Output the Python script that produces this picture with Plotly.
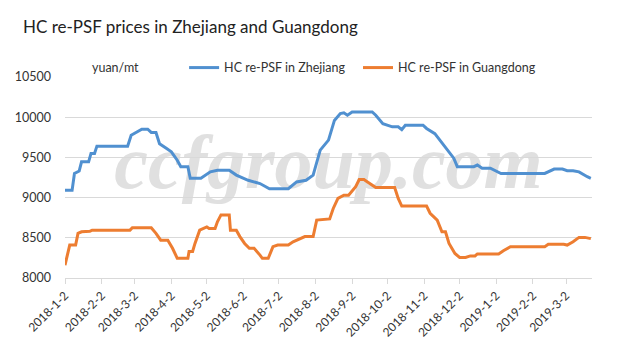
import plotly.graph_objects as go

# Zhejiang breakpoints
zj_dates = ["2018-01-02","2018-01-08","2018-01-10","2018-01-14","2018-01-16","2018-01-22","2018-01-24","2018-01-27",
            "2018-01-29","2018-02-24","2018-02-27","2018-03-02","2018-03-08","2018-03-13","2018-03-16","2018-03-20",
            "2018-03-23","2018-03-29","2018-04-02","2018-04-07","2018-04-10","2018-04-16","2018-04-18","2018-04-27",
            "2018-05-05","2018-05-11","2018-05-21","2018-05-27","2018-06-06","2018-06-16","2018-06-24","2018-07-10",
            "2018-07-17","2018-07-25","2018-07-31","2018-08-06","2018-08-10","2018-08-13","2018-08-18","2018-08-23",
            "2018-08-26","2018-08-29","2018-09-02","2018-09-19","2018-09-22","2018-09-28","2018-10-06","2018-10-11",
            "2018-10-14","2018-10-17","2018-11-01","2018-11-04","2018-11-11","2018-11-17","2018-11-23","2018-11-27",
            "2018-11-30","2018-12-14","2018-12-17","2018-12-21","2018-12-28","2019-01-06","2019-02-12","2019-02-20",
            "2019-02-27","2019-03-03","2019-03-08","2019-03-13","2019-03-20","2019-03-23"]
zj_values = [9090,9090,9300,9330,9445,9445,9550,9550,
             9640,9640,9775,9800,9850,9850,9810,9810,
             9670,9610,9570,9465,9385,9385,9240,9240,
             9320,9340,9340,9280,9215,9175,9110,9110,
             9195,9215,9280,9590,9670,9715,9960,10045,
             10055,10025,10065,10065,10025,9920,9880,9880,
             9845,9900,9900,9860,9795,9675,9570,9490,
             9385,9385,9405,9365,9365,9300,9300,9355,
             9355,9335,9335,9320,9260,9240]

# Guangdong breakpoints
gd_dates = ["2018-01-02","2018-01-06","2018-01-11","2018-01-13","2018-01-16","2018-01-23","2018-01-25","2018-02-26",
            "2018-02-28","2018-03-16","2018-03-20","2018-03-24","2018-03-30","2018-04-03","2018-04-07","2018-04-16",
            "2018-04-17","2018-04-20","2018-04-22","2018-04-26","2018-05-02","2018-05-04","2018-05-09","2018-05-11",
            "2018-05-14","2018-05-21","2018-05-22","2018-05-27","2018-05-30","2018-06-03","2018-06-07","2018-06-11",
            "2018-06-16","2018-06-18","2018-06-23","2018-06-27","2018-07-01","2018-07-10","2018-07-14","2018-07-20",
            "2018-07-24","2018-07-31","2018-08-03","2018-08-14","2018-08-17","2018-08-21","2018-08-26","2018-08-30",
            "2018-09-05","2018-09-08","2018-09-12","2018-09-15","2018-09-19","2018-09-22","2018-10-08","2018-10-11",
            "2018-10-14","2018-11-04","2018-11-07","2018-11-13","2018-11-17","2018-11-20","2018-11-23","2018-11-27",
            "2018-11-28","2018-12-02","2018-12-07","2018-12-11","2018-12-15","2018-12-17","2019-01-04","2019-01-08",
            "2019-01-14","2019-02-12","2019-02-15","2019-02-28","2019-03-03","2019-03-08","2019-03-13","2019-03-18",
            "2019-03-23"]
gd_values = [8160,8410,8410,8555,8575,8580,8595,8595,
             8625,8625,8555,8470,8470,8370,8245,8245,
             8330,8330,8430,8595,8635,8615,8615,8700,
             8785,8785,8595,8595,8515,8430,8370,8370,
             8285,8245,8245,8390,8410,8410,8450,8495,
             8515,8515,8720,8735,8865,8990,9030,9030,
             9135,9225,9225,9195,9155,9125,9125,8990,
             8895,8895,8805,8720,8575,8575,8430,8325,
             8305,8255,8255,8275,8275,8300,8300,8340,
             8390,8390,8420,8420,8410,8450,8505,8505,
             8490]

tick_vals = ["2018-01-02","2018-02-02","2018-03-02","2018-04-02","2018-05-02","2018-06-02","2018-07-02",
             "2018-08-02","2018-09-02","2018-10-02","2018-11-02","2018-12-02","2019-01-02","2019-02-02","2019-03-02"]
tick_text = ["2018-1-2","2018-2-2","2018-3-2","2018-4-2","2018-5-2","2018-6-2","2018-7-2",
             "2018-8-2","2018-9-2","2018-10-2","2018-11-2","2018-12-2","2019-1-2","2019-2-2","2019-3-2"]

FONT = "Lato"

fig = go.Figure()
fig.add_trace(go.Scatter(x=zj_dates, y=zj_values, mode="lines", name="HC re-PSF in Zhejiang",
                         line=dict(color="#5090d0", width=3), legend="legend"))
fig.add_trace(go.Scatter(x=gd_dates, y=gd_values, mode="lines", name="HC re-PSF in Guangdong",
                         line=dict(color="#ed7d31", width=3), legend="legend2"))

leg_common = dict(orientation="h", xanchor="left", y=1.045, yanchor="middle",
                  font=dict(family=FONT, size=12.5, color="#333333"), itemwidth=30,
                  bgcolor="rgba(0,0,0,0)")

fig.update_layout(
    width=638, height=358,
    margin=dict(l=65, r=46, t=77, b=80),
    paper_bgcolor="white", plot_bgcolor="white",
    font=dict(family=FONT, color="#333333", size=12),
    title=dict(text="HC re-PSF prices in Zhejiang and Guangdong", x=0.036, xanchor="left",
               y=0.925, yanchor="middle", font=dict(family=FONT, size=17, color="#222222")),
    showlegend=True,
    legend=dict(x=0.226, **leg_common),
    legend2=dict(x=0.556, **leg_common),
    xaxis=dict(type="date", range=["2018-01-02", "2019-03-24"], tickmode="array",
               tickvals=tick_vals, ticktext=tick_text, tickangle=-45, showgrid=False,
               showline=True, linecolor="#d9d9d9", linewidth=1, ticks="outside", ticklen=5,
               tickcolor="#d9d9d9", tickfont=dict(family=FONT, size=12, color="#333333"),
               zeroline=False),
    yaxis=dict(range=[8000, 10500], dtick=500, tick0=8000, tickformat="d", showgrid=True,
               gridcolor="#d9d9d9", gridwidth=1, showline=False, zeroline=False, ticks="",
               ticklabelstandoff=13, tickfont=dict(family=FONT, size=12.5, color="#333333")),
    shapes=[dict(type="rect", xref="paper", yref="paper", x0=0.05, x1=0.95, y0=0.39, y1=0.84,
                 line=dict(width=0), fillcolor="rgba(0,0,0,0)", layer="below",
                 label=dict(text="ccfgroup.com", textposition="middle center",
                            font=dict(family="Liberation Serif", size=76, color="#e0e0e0",
                                      style="italic", weight="bold")))],
    annotations=[dict(text="yuan/mt", xref="paper", yref="paper", x=0.048, y=1.045,
                      xanchor="left", yanchor="middle", showarrow=False,
                      font=dict(family=FONT, size=12.5, color="#333333"))],
)

fig.write_html("out.html")
